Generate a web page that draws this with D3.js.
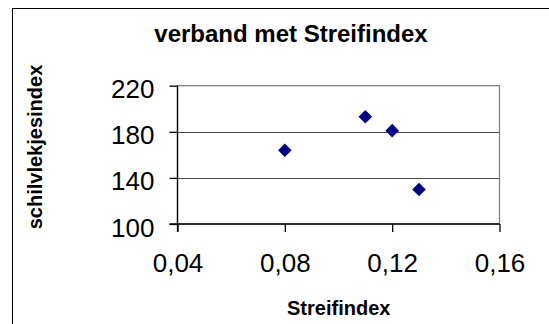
<!DOCTYPE html>
<html><head><meta charset="utf-8">
<script src="https://cdn.jsdelivr.net/npm/d3@7"></script>
<style>body{margin:0;background:#fff}svg{display:block}</style>
</head><body>
<script>
const streifindex = [0.08, 0.11, 0.12, 0.13];
const schilvlekjesindex = [164, 193, 181, 130];
const xTicks = [0.04, 0.08, 0.12, 0.16];
const yTicks = [100, 140, 180, 220];
const title = "verband met Streifindex";
const xTitle = "Streifindex";
const yTitle = "schilvlekjesindex";

const W = 549, H = 324;
const svg = d3.select("body").append("svg").attr("width", W).attr("height", H);
const font = "'Liberation Sans', Arial, sans-serif";

// outer chart border
svg.append("rect").attr("x", 12.5).attr("y", 8.5).attr("width", 600).attr("height", 400)
  .attr("fill", "#fff").attr("stroke", "#000").attr("stroke-width", 1);

const x = d3.scaleLinear().domain([0.04, 0.16]).range([177.5, 499.5]);
const y = d3.scaleLinear().domain([100, 220]).range([224, 85.7]);

// plot border (gray)
svg.append("rect").attr("x", x(0.04)).attr("y", y(220)).attr("width", x(0.16) - x(0.04))
  .attr("height", y(100) - y(220)).attr("fill", "none").attr("stroke", "#808080").attr("stroke-width", 1.3);

// gridlines
svg.append("g").selectAll("line").data(yTicks.filter(d => d > 100 && d < 220)).join("line")
  .attr("x1", x(0.04)).attr("x2", x(0.16)).attr("y1", d => Math.round(y(d)) + 0.5).attr("y2", d => Math.round(y(d)) + 0.5)
  .attr("stroke", "#4a4a4a").attr("stroke-width", 1.2);

// y axis
const yAxis = d3.axisLeft(y).tickValues(yTicks).tickSize(8).tickPadding(0).tickFormat(d3.format("d"));
const gy = svg.append("g").attr("transform", `translate(${x(0.04)},0)`).call(yAxis);
gy.select(".domain").attr("d", `M0,${y(220)}V${y(100) + 8}`).attr("stroke", "#000").attr("stroke-width", 1.3);
gy.selectAll(".tick line").attr("stroke", "#000").attr("stroke-width", 1.3);
gy.selectAll(".tick text").attr("x", -23).attr("dy", 12).attr("font-family", font).attr("font-size", 26)
  .attr("fill", "#000").attr("text-anchor", "end").attr("y", 0).attr("dominant-baseline", "auto");

// x axis
const xAxis = d3.axisBottom(x).tickValues(xTicks).tickSize(8).tickPadding(0)
  .tickFormat(d => d3.format(".2f")(d).replace(".", ","));
const gx = svg.append("g").attr("transform", `translate(0,${y(100)})`).call(xAxis);
gx.select(".domain").attr("d", `M${x(0.04) - 8},0H${x(0.16)}`).attr("stroke", "#000").attr("stroke-width", 1.3);
gx.selectAll(".tick line").attr("stroke", "#000").attr("stroke-width", 1.3);
gx.selectAll(".tick text").attr("y", 48).attr("dy", 0).attr("font-family", font).attr("font-size", 26).attr("fill", "#000");

// points
const data = streifindex.map((v, i) => ({x: v, y: schilvlekjesindex[i]}));
svg.append("g").selectAll("path").data(data).join("path")
  .attr("transform", d => `translate(${x(d.x)},${y(d.y)})`)
  .attr("d", "M0,-6.8L6.8,0L0,6.8L-6.8,0Z")
  .attr("fill", "#000080");

// titles
svg.append("text").attr("x", 291).attr("y", 41.5).attr("text-anchor", "middle")
  .attr("font-family", font).attr("font-weight", "bold").attr("font-size", 24).text(title);
svg.append("text").attr("x", 338.7).attr("y", 315).attr("text-anchor", "middle")
  .attr("font-family", font).attr("font-weight", "bold").attr("font-size", 20).text(xTitle);
svg.append("text").attr("transform", "translate(42,147) rotate(-90)").attr("text-anchor", "middle")
  .attr("font-family", font).attr("font-weight", "bold").attr("font-size", 20).text(yTitle);
</script>
</body></html>
